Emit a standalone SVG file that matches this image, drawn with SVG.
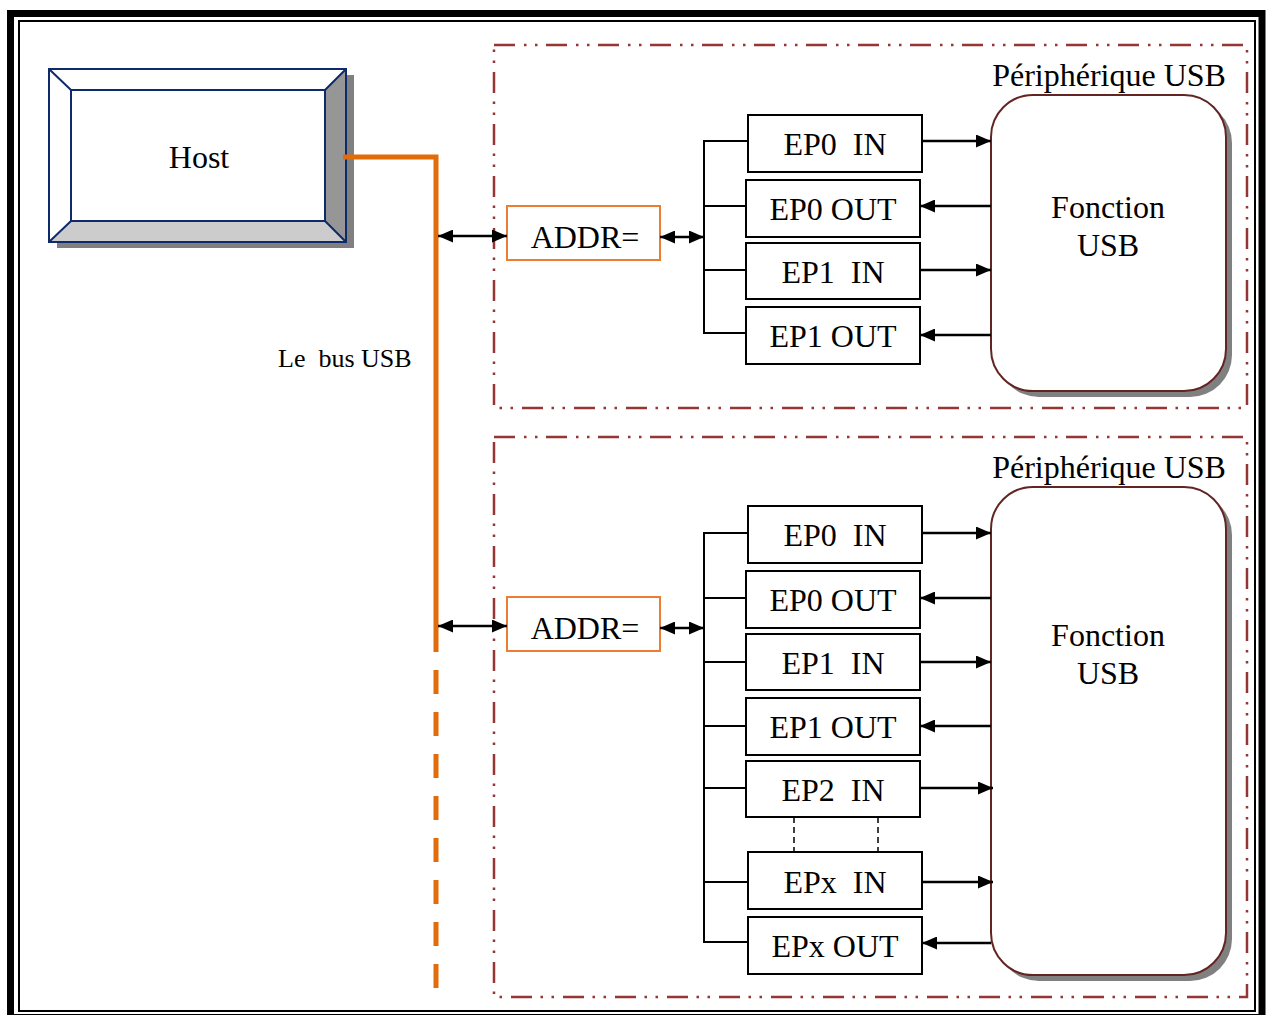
<svg xmlns="http://www.w3.org/2000/svg" width="1268" height="1015" viewBox="0 0 1268 1015">
  <style>
    text { font-family: "Liberation Serif", "Times New Roman", serif; fill: #000; white-space: pre; }
    .lbl { font-size: 32px; text-anchor: middle; }
    .small { font-size: 26px; }
    .ep { fill: #fff; stroke: #000; stroke-width: 2; }
    .addr { fill: #fff; stroke: #ed7d31; stroke-width: 2; }
    .wire { fill: none; stroke: #000; stroke-width: 2; }
    .arr { fill: none; stroke: #000; stroke-width: 2.5; }
    .group { fill: none; stroke: #943634; stroke-width: 2.5; stroke-dasharray: 21 9 2.5 8.5 2.5 8.5; }
    .fn { fill: #fff; stroke: #632523; stroke-width: 2; }
    .shadow { fill: #808080; }
    .bus { fill: none; stroke: #e36c0a; stroke-width: 5; }
  </style>
  <defs>
    <marker id="ah" viewBox="0 0 15 13" refX="15" refY="6.5" markerWidth="15" markerHeight="13" markerUnits="userSpaceOnUse" orient="auto-start-reverse">
      <path d="M0,0 L15,6.5 L0,13 z" fill="#000"/>
    </marker>
  </defs>

  <rect width="1268" height="1015" fill="#fff"/>

  <!-- page frame: thick outer rule plus thin inner rule -->
  <rect x="10.5" y="13.5" width="1251.5" height="1004" fill="none" stroke="#000" stroke-width="7"/>
  <rect x="19" y="21" width="1236" height="990" fill="none" stroke="#000" stroke-width="2"/>

  <!-- Host (bevelled button) -->
  <g id="host">
    <rect class="shadow" x="57" y="75" width="297" height="173"/>
    <rect x="49" y="69" width="297" height="173" fill="#fff"/>
    <polygon points="325,90 346,69 346,242 325,221" fill="#969696"/>
    <polygon points="71,221 325,221 346,242 49,242" fill="#cccccc"/>
    <g fill="none" stroke="#0d2b6b" stroke-width="2">
      <rect x="49" y="69" width="297" height="173"/>
      <rect x="71" y="90" width="254" height="131"/>
      <path d="M49,69 L71,90 M346,69 L325,90 M49,242 L71,221 M346,242 L325,221"/>
    </g>
    <text class="lbl" x="199" y="168">Host</text>
  </g>

  <!-- USB bus -->
  <g id="bus">
    <path class="bus" d="M343,157 H436 V652"/>
    <path class="bus" d="M436,670 V988" stroke-dasharray="24 18" stroke-width="6"/>
    <text class="small" x="278" y="367">Le  bus USB</text>
  </g>

  <!-- Device 1 -->
  <g id="device1">
    <rect class="group" x="494" y="45" width="753" height="363"/>
    <text class="lbl" x="1109" y="86">Périphérique USB</text>
  </g>
  <g id="fonction1">
    <rect class="shadow" x="997" y="101" width="235" height="296" rx="42"/>
    <rect class="fn" x="991" y="95" width="235" height="296" rx="42"/>
    <text class="lbl" x="1108" y="218">Fonction</text>
    <text class="lbl" x="1108" y="256">USB</text>
  </g>
  <g id="addr1">
    <rect class="addr" x="507" y="206" width="153" height="54"/>
    <text class="lbl" x="585" y="248">ADDR=</text>
  </g>
  <g id="ep0in1"><rect class="ep" x="748" y="115" width="174" height="57"/><text class="lbl" x="835" y="155">EP0  IN</text></g>
  <g id="ep0out1"><rect class="ep" x="746" y="180" width="174" height="57"/><text class="lbl" x="833" y="220">EP0 OUT</text></g>
  <g id="ep1in1"><rect class="ep" x="746" y="243" width="174" height="56"/><text class="lbl" x="833" y="283">EP1  IN</text></g>
  <g id="ep1out1"><rect class="ep" x="746" y="307" width="174" height="57"/><text class="lbl" x="833" y="347">EP1 OUT</text></g>

  <!-- Device 2 -->
  <g id="device2">
    <rect class="group" x="494" y="437" width="753" height="560"/>
    <text class="lbl" x="1109" y="478">Périphérique USB</text>
  </g>
  <g id="fonction2">
    <rect class="shadow" x="997" y="493" width="235" height="488" rx="42"/>
    <rect class="fn" x="991" y="487" width="235" height="488" rx="42"/>
    <text class="lbl" x="1108" y="646">Fonction</text>
    <text class="lbl" x="1108" y="684">USB</text>
  </g>
  <g id="addr2">
    <rect class="addr" x="507" y="597" width="153" height="54"/>
    <text class="lbl" x="585" y="639">ADDR=</text>
  </g>
  <g id="ep0in2"><rect class="ep" x="748" y="506" width="174" height="57"/><text class="lbl" x="835" y="546">EP0  IN</text></g>
  <g id="ep0out2"><rect class="ep" x="746" y="571" width="174" height="57"/><text class="lbl" x="833" y="611">EP0 OUT</text></g>
  <g id="ep1in2"><rect class="ep" x="746" y="634" width="174" height="56"/><text class="lbl" x="833" y="674">EP1  IN</text></g>
  <g id="ep1out2"><rect class="ep" x="746" y="698" width="174" height="57"/><text class="lbl" x="833" y="738">EP1 OUT</text></g>
  <g id="ep2in2"><rect class="ep" x="746" y="761" width="174" height="56"/><text class="lbl" x="833" y="801">EP2  IN</text></g>
  <g id="epxin2"><rect class="ep" x="748" y="852" width="174" height="57"/><text class="lbl" x="835" y="893">EPx  IN</text></g>
  <g id="epxout2"><rect class="ep" x="748" y="917" width="174" height="57"/><text class="lbl" x="835" y="957">EPx OUT</text></g>

  <!-- connectors -->
  <g id="connectors">
    <!-- bus to address decoders -->
    <line class="arr" x1="438" y1="236" x2="507" y2="236" marker-start="url(#ah)" marker-end="url(#ah)"/>
    <line class="arr" x1="438" y1="626" x2="507" y2="626" marker-start="url(#ah)" marker-end="url(#ah)"/>
    <!-- decoders to endpoint trees -->
    <line class="arr" x1="660" y1="237" x2="704" y2="237" marker-start="url(#ah)" marker-end="url(#ah)"/>
    <line class="arr" x1="660" y1="628" x2="704" y2="628" marker-start="url(#ah)" marker-end="url(#ah)"/>
    <!-- endpoint trees -->
    <path class="wire" d="M748,141 H704 V333 H746 M704,206 H746 M704,270 H746"/>
    <path class="wire" d="M748,533 H704 V942 H748 M704,598 H746 M704,662 H746 M704,726 H746 M704,788 H746 M704,882 H748"/>
    <!-- elided endpoints -->
    <path d="M794,817 V852 M878,817 V852" fill="none" stroke="#000" stroke-width="1.5" stroke-dasharray="6 4"/>
    <!-- endpoints to and from the function, device 1 -->
    <line class="arr" x1="922" y1="141" x2="991" y2="141" marker-end="url(#ah)"/>
    <line class="arr" x1="991" y1="206" x2="920" y2="206" marker-end="url(#ah)"/>
    <line class="arr" x1="920" y1="270" x2="991" y2="270" marker-end="url(#ah)"/>
    <line class="arr" x1="991" y1="335" x2="920" y2="335" marker-end="url(#ah)"/>
    <!-- endpoints to and from the function, device 2 -->
    <line class="arr" x1="922" y1="533" x2="991" y2="533" marker-end="url(#ah)"/>
    <line class="arr" x1="991" y1="598" x2="920" y2="598" marker-end="url(#ah)"/>
    <line class="arr" x1="920" y1="662" x2="991" y2="662" marker-end="url(#ah)"/>
    <line class="arr" x1="991" y1="726" x2="920" y2="726" marker-end="url(#ah)"/>
    <line class="arr" x1="920" y1="788" x2="993" y2="788" marker-end="url(#ah)"/>
    <line class="arr" x1="922" y1="882" x2="993" y2="882" marker-end="url(#ah)"/>
    <line class="arr" x1="991" y1="943" x2="922" y2="943" marker-end="url(#ah)"/>
  </g>
</svg>
